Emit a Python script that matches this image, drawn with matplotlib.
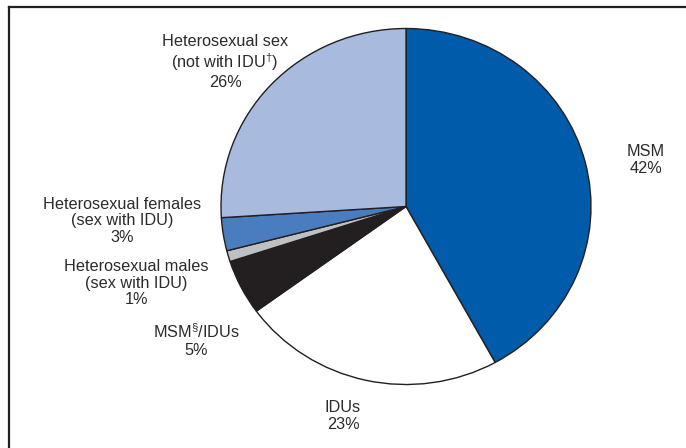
import matplotlib
matplotlib.use("Agg")
import matplotlib.pyplot as plt
from matplotlib.lines import Line2D

plt.rcParams['font.family'] = ['Liberation Sans', 'DejaVu Sans']
plt.rcParams['mathtext.fontset'] = 'custom'
plt.rcParams['mathtext.rm'] = 'Liberation Sans'
plt.rcParams['mathtext.it'] = 'Liberation Sans'

categories = ["MSM", "IDUs", "MSM/IDUs", "Heterosexual males (sex with IDU)",
              "Heterosexual females (sex with IDU)", "Heterosexual sex (not with IDU)"]
values = [42, 23, 5, 1, 3, 26]
colors = ["#005BAA", "#FFFFFF", "#231F20", "#BEC0C2", "#4A7DBF", "#A9BADF"]
labels = ["MSM\n42%", "IDUs\n23%", "MSM$^{§}$/IDUs\n5%",
          "Heterosexual males\n(sex with IDU)\n1%",
          "Heterosexual females\n(sex with IDU)\n3%",
          "Heterosexual sex\n(not with IDU$^{†}$)\n26%"]
# label centre positions in pixels (x, y from top)
label_pos = [(646, 160), (343, 416), (196, 340), (136, 283), (122, 221), (225, 62)]

W, H = 686, 448
fig = plt.figure(figsize=(W / 100, H / 100), dpi=100)

cx, cy, rx, ry = 406, 206.5, 185, 178
ax = fig.add_axes([(cx - rx) / W, 1 - (cy + ry) / H, 2 * rx / W, 2 * ry / H])
ax.pie(values, colors=colors, startangle=90, counterclock=False,
       wedgeprops=dict(edgecolor="#231F20", linewidth=1.0))
ax.set_aspect('auto')
ax.set_xlim(-1, 1)
ax.set_ylim(-1, 1)
ax.axis('off')

for lab, (x, y) in zip(labels, label_pos):
    fig.text(x / W, 1 - y / H, lab, ha='center', va='center', fontsize=11.7,
             color="#2B2B2B", linespacing=1.12)

fig.add_artist(Line2D([8.5 / W, 8.5 / W], [0, 1 - 7 / H], color="#231F20",
                      linewidth=1.6, transform=fig.transFigure))
fig.add_artist(Line2D([8.5 / W, 1], [1 - 7 / H, 1 - 7 / H], color="#231F20",
                      linewidth=1.6, transform=fig.transFigure))

fig.savefig("out.png", dpi=100, facecolor="white")
